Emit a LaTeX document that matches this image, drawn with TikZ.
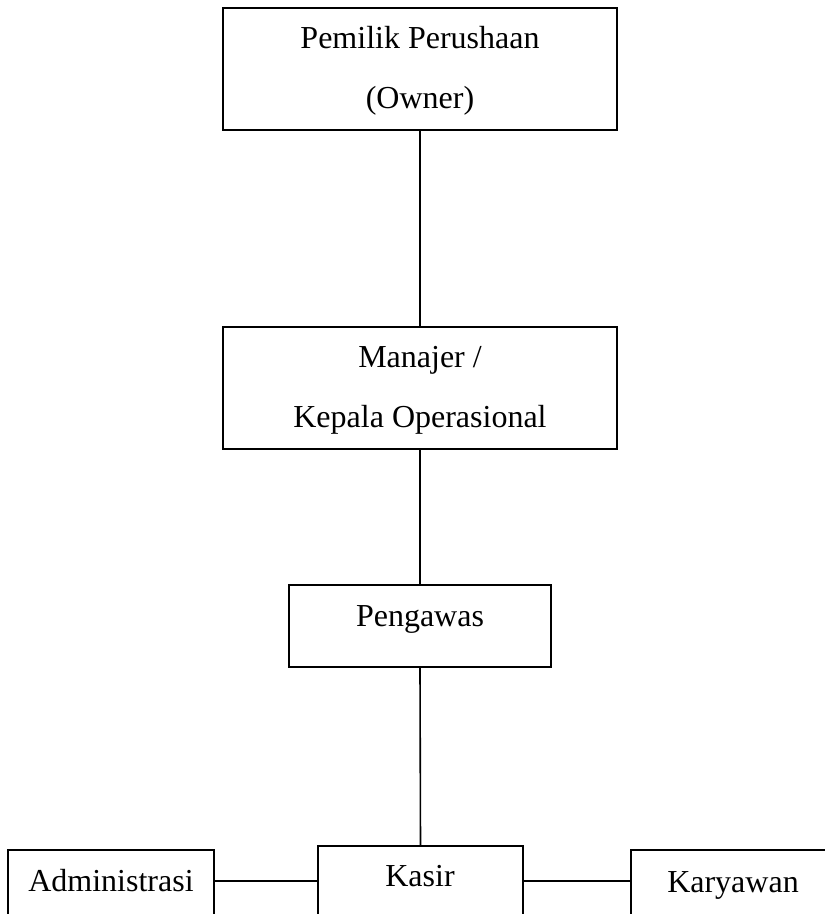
\documentclass[tikz,border=0pt]{standalone}
\usepackage{fontspec}
\setmainfont{Liberation Serif}
\begin{document}
\begin{tikzpicture}[x=1pt,y=-1pt,
  box/.style={draw=black,line width=1.6pt,rectangle,inner sep=0pt},
  lbl/.style={anchor=base,inner sep=0pt,font=\fontsize{32}{38}\selectfont},
  link/.style={draw=black,line width=1.6pt}]
\useasboundingbox (0,0) rectangle (825,914);
\clip (0,0) rectangle (825,914);
% boxes
\node[box,minimum width=394pt,minimum height=122pt] (owner) at (420,69) {};
\node[box,minimum width=394pt,minimum height=122pt] (manager) at (420,388) {};
\node[box,minimum width=262pt,minimum height=82pt] (pengawas) at (420,626) {};
\node[box,minimum width=205pt,minimum height=120pt] (kasir) at (420.5,906) {};
\node[box,minimum width=206pt,minimum height=120pt] (admin) at (111,910) {};
\node[box,minimum width=200pt,minimum height=120pt] (karyawan) at (731,910) {};
% labels
\node[lbl] (ownerA) at (420,48) {Pemilik Perushaan};
\node[lbl] (ownerB) at (420,108) {(Owner)};
\node[lbl] (managerA) at (420,367) {Manajer /};
\node[lbl] (managerB) at (420,427) {Kepala Operasional};
\node[lbl] (pengawasL) at (420,626) {Pengawas};
\node[lbl] (kasirL) at (420,886) {Kasir};
\node[lbl] (adminL) at (111,891) {Administrasi};
\node[lbl] (karyawanL) at (733,892) {Karyawan};
% connectors
\coordinate (row) at (0,881);
\draw[link] (owner.south) -- (manager.north);
\draw[link] (manager.south) -- (pengawas.north);
\draw[link] (pengawas.south) -- (kasir.north);
\draw[link] (admin.east |- row) -- (kasir.west |- row);
\draw[link] (kasir.east |- row) -- (karyawan.west |- row);
\end{tikzpicture}
\end{document}
